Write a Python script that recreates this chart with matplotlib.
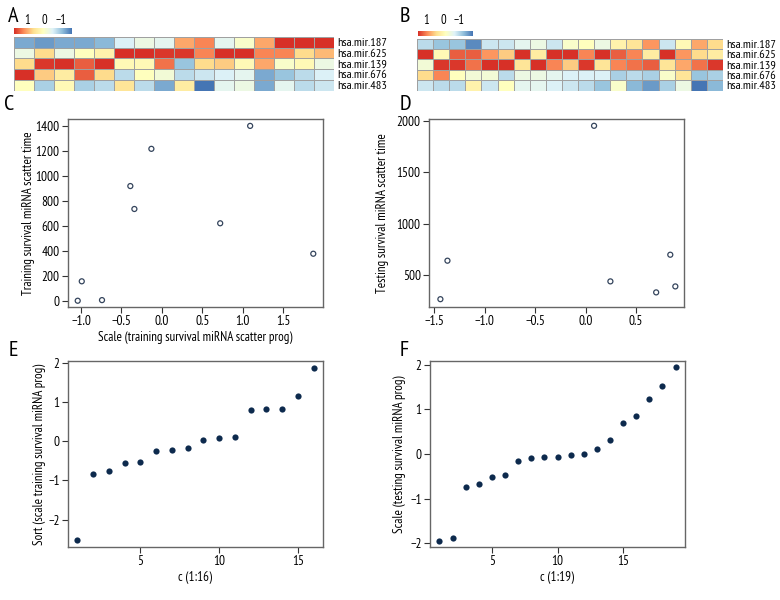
import numpy as np
import matplotlib
matplotlib.use("Agg")
import matplotlib.pyplot as plt
from matplotlib.colors import LinearSegmentedColormap

plt.rcParams['font.family'] = ['PT Sans Narrow', 'Roboto Condensed', 'Fira Sans Condensed',
                               'Archivo Narrow', 'Liberation Sans', 'DejaVu Sans']

# ---------------- data ----------------
genes = ["hsa.mir.187", "hsa.mir.625", "hsa.mir.139", "hsa.mir.676", "hsa.mir.483"]

heat_A = [
    [-0.55, -0.6, -0.55, -0.55, -0.5, -0.25, -0.15, -0.2, 0.4, 0.5, -0.2, -0.05, 0.4, 0.75, 0.9, 0.8],
    [-0.15, 0.25, -0.15, 0.0, 0.1, 0.9, 0.9, 0.7, 0.7, 0.5, 0.85, 0.95, 0.5, 0.5, 0.25, 0.35],
    [0.25, 0.7, 0.9, 0.6, 0.8, 0.05, 0.05, 0.55, -0.45, 0.25, 0.3, 0.05, 0.4, -0.05, 0.05, -0.15],
    [0.85, 0.3, 0.15, 0.6, 0.25, -0.35, 0.0, -0.1, -0.35, -0.3, -0.25, -0.2, -0.55, -0.45, -0.35, -0.25],
    [0.0, -0.4, 0.05, -0.4, -0.35, 0.2, -0.35, -0.55, 0.15, -0.8, -0.2, -0.15, -0.55, -0.2, -0.35, -0.3],
]
heat_B = [
    [-0.35, -0.45, -0.45, -0.65, -0.3, -0.3, -0.2, -0.15, -0.3, -0.05, 0.0, -0.15, 0.1, 0.2, 0.45, -0.3, 0.05, 0.4, 0.25],
    [0.9, 0.05, 0.6, 0.6, 0.45, 0.3, 0.9, 0.15, 0.75, 0.85, 0.5, 0.9, 0.6, 0.5, 0.15, 0.9, 0.45, 0.25, 0.15],
    [-0.1, 0.7, 0.7, 0.55, 0.75, 0.8, 0.2, 0.95, 0.5, 0.3, 0.7, 0.2, 0.5, 0.55, 0.6, 0.2, 0.4, 0.55, 0.7],
    [0.25, 0.5, 0.0, -0.1, -0.1, -0.35, -0.15, -0.15, -0.2, -0.25, -0.25, -0.25, -0.4, -0.35, -0.4, -0.05, 0.2, -0.45, -0.4],
    [-0.3, -0.35, -0.35, 0.1, -0.3, 0.0, -0.2, -0.2, -0.25, -0.3, -0.35, -0.45, -0.05, -0.5, -0.6, -0.4, -0.15, -1.0, -0.5],
]

train_prog = [-1.04, -0.99, -0.74, -0.39, -0.34, -0.13, 0.72, 1.09, 1.87]
train_time = [5, 160, 10, 920, 737, 1217, 623, 1400, 380]

test_prog = [-1.44, -1.37, 0.084, 0.246, 0.70, 0.84, 0.89]
test_time = [266, 640, 1951, 439, 332, 698, 390]

train_sorted = [-2.53, -0.835, -0.76, -0.565, -0.53, -0.236, -0.22, -0.16, 0.034, 0.076, 0.10,
                0.81, 0.83, 0.83, 1.15, 1.88]
test_sorted = [-1.94, -1.88, -0.74, -0.66, -0.52, -0.48, -0.15, -0.08, -0.07, -0.06, -0.03,
               0.0, 0.12, 0.32, 0.70, 0.86, 1.24, 1.51, 1.94]

cbar_labels = ["1", "0", "\u22121"]

# ---------------- figure ----------------
W, H = 780, 600
fig = plt.figure(figsize=(W / 100, H / 100), dpi=100)

def px_axes(x0, y0, x1, y1):
    return fig.add_axes([x0 / W, 1 - y1 / H, (x1 - x0) / W, (y1 - y0) / H])

def px_text(x, y, s, **kw):
    return fig.text(x / W, 1 - y / H, s, **kw)

cmap = LinearSegmentedColormap.from_list(
    "rdylbu", ["#4575B4", "#91BFDB", "#E0F3F8", "#FFFFBF", "#FEE090", "#FC8D59", "#D73027"])
VMAX = 0.72

tick_fs = 9.6
lab_fs = 9.4
letter_fs = 16
spine_col = "#666666"
dot_col = "#0d2a4d"


def heatmap(box, data, cbox, label_xs, letter, letter_xy):
    ax = px_axes(*box)
    arr = np.array(data)
    ax.pcolormesh(arr, cmap=cmap, vmin=-VMAX, vmax=VMAX, edgecolors="#a0a0a0", linewidth=0.6)
    ax.set_ylim(arr.shape[0], 0)
    ax.set_xlim(0, arr.shape[1])
    ax.set_xticks([])
    ax.set_yticks(np.arange(arr.shape[0]) + 0.5)
    ax.set_yticklabels(genes, fontsize=8.8)
    ax.yaxis.tick_right()
    ax.tick_params(axis="y", length=0, pad=2)
    for s in ax.spines.values():
        s.set_visible(False)
    # colour key
    cax = px_axes(*cbox)
    grad = np.linspace(VMAX, -VMAX, 200)[None, :]
    cax.imshow(grad, cmap=cmap, vmin=-VMAX, vmax=VMAX, aspect="auto", extent=[1, -1, 0, 1])
    cax.set_xlim(1.0, -1.0)
    cax.set_xticks([])
    cax.set_yticks([])
    for s in cax.spines.values():
        s.set_visible(False)
    for lx, lab in zip(label_xs, cbar_labels):
        px_text(lx, 21, lab, fontsize=9, ha="center", va="center")
    px_text(letter_xy[0], letter_xy[1], letter, fontsize=letter_fs, ha="center", va="center")


heatmap((14, 36.7, 334, 90.7), heat_A, (14, 28, 72, 34), (27, 44, 61), "A", (13, 17))
heatmap((417, 38.5, 723, 90.7), heat_B, (418, 31, 473, 36.5), (426, 443, 459), "B", (405, 17))


def style(ax, ylx, xly=None):
    for s in ax.spines.values():
        s.set_color(spine_col)
        s.set_linewidth(1.0)
    ax.tick_params(labelsize=tick_fs, length=4, width=0.8, color="#333333", pad=2)
    ax.yaxis.set_label_coords(ylx, 0.5)
    if xly is not None:
        ax.xaxis.set_label_coords(0.5, xly)


# C
axC = px_axes(68, 119, 323, 307)
axC.scatter(train_prog, train_time, s=13, facecolors="none", edgecolors="#34445c", linewidths=0.9)
axC.set_xlim(-1.16, 1.99)
axC.set_ylim(-45, 1455)
axC.set_xticks([-1.0, -0.5, 0.0, 0.5, 1.0, 1.5])
axC.set_xticklabels(["\u22121.0", "\u22120.5", "0.0", "0.5", "1.0", "1.5"])
axC.set_yticks(range(0, 1401, 200))
axC.set_xlabel("Scale (training survival miRNA scatter prog)", fontsize=lab_fs)
axC.set_ylabel("Training survival miRNA scatter time", fontsize=lab_fs)
style(axC, -0.131, -0.128)
px_text(9, 104, "C", fontsize=letter_fs, ha="center", va="center")

# D
axD = px_axes(429, 119, 684, 307)
axD.scatter(test_prog, test_time, s=13, facecolors="none", edgecolors="#34445c", linewidths=0.9)
axD.set_xlim(-1.553, 0.976)
axD.set_ylim(190, 2017)
axD.set_xticks([-1.5, -1.0, -0.5, 0.0, 0.5])
axD.set_xticklabels(["\u22121.5", "\u22121.0", "\u22120.5", "0.0", "0.5"])
axD.set_yticks([500, 1000, 1500, 2000])
axD.set_ylabel("Testing survival miRNA scatter time", fontsize=lab_fs)
style(axD, -0.155)
px_text(405, 104, "D", fontsize=letter_fs, ha="center", va="center")

# E
axE = px_axes(68, 361, 323, 547)
xE = np.arange(1, len(train_sorted) + 1)
axE.scatter(xE, train_sorted, s=20, color=dot_col, linewidths=0)
axE.set_xlim(0.4, len(train_sorted) + 0.6)
axE.set_ylim(-2.70, 2.05)
axE.set_xticks([5, 10, 15])
axE.set_yticks([-2, -1, 0, 1, 2])
axE.set_yticklabels(["\u22122", "\u22121", "0", "1", "2"])
axE.set_xlabel("c (1:16)", fontsize=lab_fs)
axE.set_ylabel("Sort (scale training survival miRNA prog)", fontsize=lab_fs)
style(axE, -0.088, -0.129)
px_text(13, 351, "E", fontsize=letter_fs, ha="center", va="center")

# F
axF = px_axes(430, 361, 685, 547)
xF = np.arange(1, len(test_sorted) + 1)
axF.scatter(xF, test_sorted, s=20, color=dot_col, linewidths=0)
axF.set_xlim(0.28, len(test_sorted) + 0.72)
axF.set_ylim(-2.08, 2.08)
axF.set_xticks([5, 10, 15])
axF.set_yticks([-2, -1, 0, 1, 2])
axF.set_yticklabels(["\u22122", "\u22121", "0", "1", "2"])
axF.set_xlabel("c (1:19)", fontsize=lab_fs)
axF.set_ylabel("Scale (testing survival miRNA prog)", fontsize=lab_fs)
style(axF, -0.096, -0.129)
px_text(404, 350, "F", fontsize=letter_fs, ha="center", va="center")

fig.savefig("out.png", dpi=100)
